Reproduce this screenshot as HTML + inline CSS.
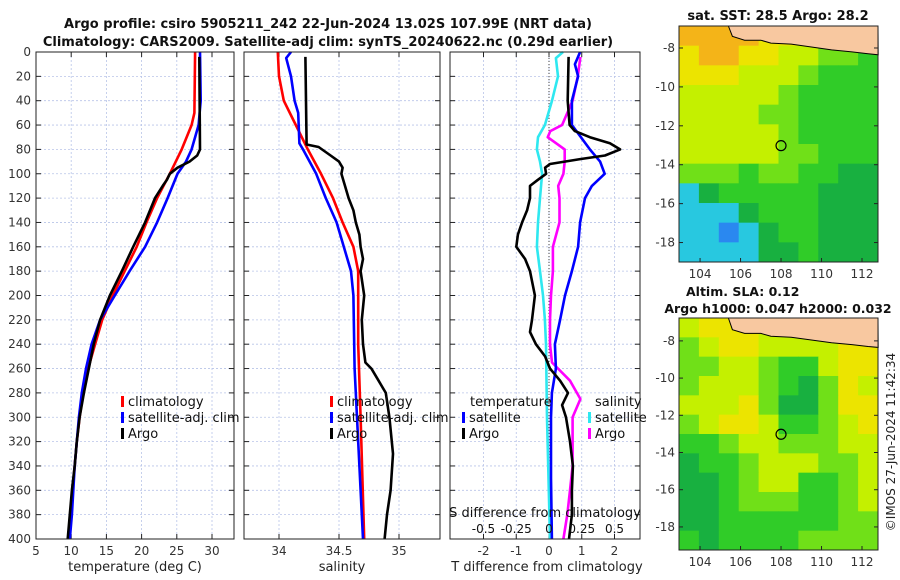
<!DOCTYPE html>
<html><head><meta charset="utf-8"><style>
body{margin:0;background:#fff}
svg{display:block;font-family:"DejaVu Sans","Liberation Sans",sans-serif}
</style></head><body>
<svg id="c" width="900" height="580" xmlns="http://www.w3.org/2000/svg"></svg>
<script>
// ---------- DATA ----------
const tClimDepth=[0,50,60,80,100,120,140,160,180,200,220,240,260,280,300,320,340,360,380,400];
const tClimVal=[27.6,27.5,27.1,25.7,24,22.2,20.7,19.3,17.6,15.9,14.4,13.4,12.4,11.7,11.2,10.8,10.5,10.2,10,9.7];
const tSatDepth=[0,40,60,80,90,100,120,140,160,180,200,220,240,260,280,300,320,340,360,380,400];
const tSatVal=[28.3,28.4,28.1,27.1,26.3,25.1,23.7,22.2,20.5,18.3,16.2,14.1,12.9,12.1,11.5,11.1,10.8,10.5,10.3,10.1,9.8];
const tArgoDepth=[4,80,85,90,95,100,105,110,120,140,160,180,200,220,240,260,280,300,320,340,360,380,400];
const tArgoVal=[28.2,28.3,27.9,26.8,25.1,24,23.6,23,21.9,20.5,18.8,17.2,15.5,14.1,13.2,12.5,11.8,11.2,10.8,10.5,10.1,9.8,9.5];
const sClimDepth=[0,20,40,60,80,100,120,140,160,180,240,300,400];
const sClimVal=[33.99,34.0,34.04,34.14,34.24,34.35,34.45,34.53,34.62,34.66,34.66,34.68,34.71];
const sSatDepth=[0,5,20,40,50,75,80,100,120,140,160,180,200,260,300,400];
const sSatVal=[34.1,34.06,34.1,34.13,34.16,34.17,34.2,34.31,34.39,34.48,34.54,34.6,34.62,34.63,34.65,34.7];
const sArgoDepth=[4,76,78,85,90,95,100,110,120,130,140,150,160,170,180,200,220,240,255,260,270,280,300,330,360,380,400];
const sArgoVal=[34.22,34.23,34.33,34.43,34.5,34.53,34.52,34.55,34.58,34.62,34.64,34.67,34.68,34.7,34.68,34.71,34.69,34.7,34.72,34.77,34.83,34.89,34.92,34.95,34.93,34.9,34.88];
const dTArgoDepth=[4,40,60,65,70,75,80,85,88,92,95,100,105,110,120,130,140,150,160,170,180,200,220,230,240,250,260,270,280,290,300,320,340,360,380,400];
const dTArgoVal=[0.6,0.57,0.63,0.79,1.25,1.86,2.17,1.71,0.95,0.03,-0.12,-0.09,-0.34,-0.58,-0.58,-0.67,-0.82,-0.95,-1.0,-0.73,-0.58,-0.43,-0.52,-0.58,-0.4,-0.12,0.03,0.34,0.58,0.4,0.52,0.64,0.73,0.7,0.7,0.61];
const dTSatDepth=[0,10,20,40,60,80,90,100,110,120,140,160,180,200,220,240,260,280,300,350,400];
const dTSatVal=[0.95,0.79,0.89,0.7,0.7,1.25,1.56,1.7,1.31,1.1,0.95,0.89,0.7,0.49,0.34,0.18,0.21,0.09,0.06,0.06,0.09];
const dSSatDepth=[0,5,20,40,60,70,80,90,100,120,140,160,180,200,220,240,300,400];
const dSSatVal=[0.107,0.053,0.069,0.023,-0.031,-0.084,-0.092,-0.069,-0.053,-0.069,-0.084,-0.092,-0.069,-0.046,-0.031,-0.023,-0.015,0.008];
const dSArgoDepth=[4,20,40,60,65,70,80,90,100,110,120,140,160,180,200,220,240,255,270,285,300,340,360,380,400];
const dSArgoVal=[0.24,0.22,0.18,0.1,0.01,-0.01,0.12,0.12,0.11,0.07,0.08,0.08,0.03,0.03,0.015,0.008,0.008,0.023,0.16,0.24,0.18,0.18,0.16,0.14,0.11];
const sstGrid=[
[7,7,7,7,6,6,5,5,4,3],[6,7,7,6,6,5,5,4,4,3],[6,6,6,5,5,5,4,3,3,3],[5,5,5,5,5,4,3,3,3,3],
[5,5,5,5,4,4,3,3,3,3],[5,5,5,5,5,4,3,3,3,3],[5,5,5,5,5,4,4,3,3,3],[4,4,4,3,4,4,3,3,2,2],
[1,2,3,3,3,3,3,2,2,2],[1,1,1,2,3,3,3,2,2,2],[1,1,0,1,2,3,3,2,2,2],[1,1,1,1,2,2,3,2,2,2]];
const slaGrid=[
[5,6,6,6,5,5,5,5,6,6],[4,5,6,6,5,5,5,5,6,6],[4,4,5,5,4,3,3,5,6,6],[4,5,5,5,4,3,2,4,6,5],
[5,5,5,6,4,2,2,4,6,6],[4,5,6,6,5,3,3,4,5,6],[3,3,4,5,5,4,4,4,5,5],[2,3,3,4,5,5,5,4,4,5],
[2,2,3,4,5,5,3,3,4,5],[2,2,3,4,4,4,3,3,4,5],[2,2,3,3,3,3,3,3,4,4],[3,2,3,3,3,3,4,4,4,4]];
const coastLon=[105.4,105.6,106.2,107,107.5,108.5,109.5,110.5,111.5,112.3,112.8];
const coastLat=[-6.7,-7.4,-7.6,-7.6,-7.75,-7.8,-7.95,-8.1,-8.2,-8.3,-8.35];
const depthTicks=[0,20,40,60,80,100,120,140,160,180,200,220,240,260,280,300,320,340,360,380,400];
const tTicks=[5,10,15,20,25,30];
const sTicks=[34,34.5,35];
const dTTicks=[-2,-1,0,1,2];
const dSTicks=[-0.5,-0.25,0,0.25,0.5];
const dSTickLabels=["-0.5","-0.25","0","0.25","0.5"];
const lonTicks=[104,106,108,110,112];
const latTicks=[-8,-10,-12,-14,-16,-18];
const argoLon=108, argoLat=-13.02;
// ---------- DRAW ----------
const svg=document.getElementById('c');const NS='http://www.w3.org/2000/svg';
function el(t,a,p){const e=document.createElementNS(NS,t);for(const k in a)e.setAttribute(k,a[k]);(p||svg).appendChild(e);return e;}
function txt(s,a,p){const e=el('text',a,p);e.textContent=s;return e;}
const Y0=52,Y1=539;const yD=d=>Y0+d/400*(Y1-Y0);
const xT=v=>36+(v-5)*7.04;
const xS=v=>279+(v-34)*120;
const xdT=v=>549+v*32.75;
const xdS=v=>549+v*131;
const panels=[[36,234,'temperature-panel'],[244,440,'salinity-panel'],[450,640,'difference-panel']];
function grid(px0,px1,xs,fx,g){
  xs.forEach(v=>{const l=el('line',{x1:fx(v),x2:fx(v),y1:Y0,y2:Y1,stroke:'#b8c4e8','stroke-dasharray':'2,2','stroke-width':0.8},g);});
  depthTicks.forEach(d=>{const l=el('line',{x1:px0,x2:px1,y1:yD(d),y2:yD(d),stroke:'#b8c4e8','stroke-dasharray':'2,2','stroke-width':0.8},g);
    el('line',{x1:px0,x2:px0+5,y1:yD(d),y2:yD(d),stroke:'#222'},g);el('line',{x1:px1,x2:px1-5,y1:yD(d),y2:yD(d),stroke:'#222'},g);});
}
function line(ds,vs,fx,color,name,g){
  const pts=ds.map((d,i)=>fx(vs[i]).toFixed(1)+','+yD(d).toFixed(1)).join(' ');
  const p=el('polyline',{points:pts,fill:'none',stroke:color,'stroke-width':2.6,'stroke-linejoin':'round'},g);
  
}
const xsets=[[tTicks,xT],[sTicks,xS],[dTTicks,xdT]];
panels.forEach((pn,i)=>{
  const g=el('g',{});
  grid(pn[0],pn[1],xsets[i][0].filter(v=>xsets[i][1](v)>pn[0]+1),xsets[i][1],g);
  xsets[i][0].forEach(v=>{const x=xsets[i][1](v);el('line',{x1:x,x2:x,y1:Y1,y2:Y1-5,stroke:'#222'},g);el('line',{x1:x,x2:x,y1:Y0,y2:Y0+5,stroke:'#222'},g);
    const t=txt(String(v),{x:x,y:Y1+16,'font-size':12,'text-anchor':'middle',fill:'#333'},g);});
  if(i==0){depthTicks.forEach(d=>{const t=txt(String(d),{x:31,y:yD(d)+4,'font-size':12,'text-anchor':'end',fill:'#333'},g);});}
  if(i==2){const l=el('line',{x1:xdT(0),x2:xdT(0),y1:Y0,y2:Y1,stroke:'#444','stroke-dasharray':'1,2'},g);}
  if(i==0){line(tClimDepth,tClimVal,xT,'#f00','temp-climatology-line',g);line(tSatDepth,tSatVal,xT,'#00f','temp-satellite-line',g);line(tArgoDepth,tArgoVal,xT,'#000','temp-argo-line',g);}
  if(i==1){line(sClimDepth,sClimVal,xS,'#f00','sal-climatology-line',g);line(sSatDepth,sSatVal,xS,'#00f','sal-satellite-line',g);line(sArgoDepth,sArgoVal,xS,'#000','sal-argo-line',g);}
  if(i==2){line(dSSatDepth,dSSatVal,xdS,'#2ee8f0','sdiff-satellite-line',g);line(dSArgoDepth,dSArgoVal,xdS,'#f0f','sdiff-argo-line',g);line(dTSatDepth,dTSatVal,xdT,'#00f','tdiff-satellite-line',g);line(dTArgoDepth,dTArgoVal,xdT,'#000','tdiff-argo-line',g);}
  const r=el('rect',{x:pn[0],y:Y0,width:pn[1]-pn[0],height:Y1-Y0,fill:'none',stroke:'#222','stroke-width':1},g);
});
// legends
function leg(x,y,c,s,name){const g=el('g',{});
  if(c)el('rect',{x:x,y:y-10,width:3,height:11,fill:c},g);txt(s,{x:x+7,y:y,'font-size':13,fill:'#111'},g);}
leg(121,406,'#f00','climatology','legend-climatology');leg(121,422,'#00f','satellite-adj. clim','legend-satellite');leg(121,438,'#000','Argo','legend-argo');
leg(330,406,'#f00','climatology','legend-climatology-sal');leg(330,422,'#00f','satellite-adj. clim','legend-satellite-sal');leg(330,438,'#000','Argo','legend-argo-sal');
leg(463,406,null,'temperature','legend-temperature-header');leg(462,422,'#00f','satellite','legend-tdiff-satellite');leg(462,438,'#000','Argo','legend-tdiff-argo');
leg(588,406,null,'salinity','legend-salinity-header');leg(588,422,'#2ee8f0','satellite','legend-sdiff-satellite');leg(588,438,'#f0f','Argo','legend-sdiff-argo');
let t=txt('S difference from climatology',{x:545,y:517,'font-size':13,'text-anchor':'middle',fill:'#111'});
dSTicks.forEach((v,i)=>{const q=txt(dSTickLabels[i],{x:xdS(v),y:533,'font-size':12,'text-anchor':'middle',fill:'#111'});});
[[135,'temperature (deg C)','t-axis-title'],[342,'salinity','s-axis-title-2'],[547,'T difference from climatology','tdiff-axis-title']].forEach(a=>{const q=txt(a[1],{x:a[0],y:571,'font-size':13,'text-anchor':'middle',fill:'#222'});});
t=txt('Argo profile: csiro 5905211_242 22-Jun-2024 13.02S 107.99E (NRT data)',{x:328,y:28,'font-size':13,'font-weight':'bold','text-anchor':'middle',fill:'#111'});
t=txt('Climatology: CARS2009. Satellite-adj clim: synTS_20240622.nc (0.29d earlier)',{x:328,y:46,'font-size':13,'font-weight':'bold','text-anchor':'middle',fill:'#111'});
// maps
const cols=['#2a88f0','#28c8e0','#18b040','#30cc28','#70e018','#c4f000','#ece400','#f4b418'];
function map(y0,y1,latTop,latBot,gridV,name,title1,title2){
  const x0=679,x1=878,lonL=102.96,lonR=112.79;
  const g=el('g',{});
  const fx=l=>x0+(l-lonL)/(lonR-lonL)*(x1-x0);const fy=l=>y0+(latTop-l)/(latTop-latBot)*(y1-y0);
  const nr=gridV.length,nc=gridV[0].length,cw=(x1-x0)/nc,ch=(y1-y0)/nr;
  gridV.forEach((row,r)=>row.forEach((v,c)=>{const q=el('rect',{x:x0+c*cw,y:y0+r*ch,width:cw+0.5,height:ch+0.5,fill:cols[v]},g);}));
  const pts=coastLon.map((l,i)=>fx(l).toFixed(1)+','+Math.max(y0,fy(coastLat[i])).toFixed(1));
  const land=el('polygon',{points:pts.join(' ')+' '+x1+','+y0,fill:'#f8c8a0',stroke:'#000','stroke-width':1},g);
  const c=el('circle',{cx:fx(argoLon),cy:fy(argoLat),r:5,fill:'none',stroke:'#000','stroke-width':1.2},g);
  el('rect',{x:x0,y:y0,width:x1-x0,height:y1-y0,fill:'none',stroke:'#222'},g);
  lonTicks.forEach(l=>{el('line',{x1:fx(l),x2:fx(l),y1:y1,y2:y1-4,stroke:'#222'},g);const q=txt(String(l),{x:fx(l),y:y1+16,'font-size':12,'text-anchor':'middle',fill:'#333'},g);});
  latTicks.forEach(l=>{el('line',{x1:x1,x2:x1-4,y1:fy(l),y2:fy(l),stroke:'#222'},g);el('line',{x1:x0,x2:x0+4,y1:fy(l),y2:fy(l),stroke:'#222'},g);const q=txt(String(l),{x:x0-4,y:fy(l)+4,'font-size':12,'text-anchor':'end',fill:'#333'},g);});
  if(title2){let q=txt(title1,{x:686,y:y0-22,'font-size':12.5,'font-weight':'bold',fill:'#111','text-anchor':'start'},g);
    q=txt(title2,{x:778,y:y0-5,'font-size':12.5,'font-weight':'bold',fill:'#111','text-anchor':'middle'},g);}
  else{const q=txt(title1,{x:778,y:y0-6,'font-size':13,'font-weight':'bold',fill:'#111','text-anchor':'middle'},g);}
}
map(26,262,-6.87,-19.0,sstGrid,'sst-map','sat. SST: 28.5 Argo: 28.2');
map(318,550,-6.77,-19.24,slaGrid,'sla-map','Altim. SLA: 0.12','Argo h1000: 0.047 h2000: 0.032');
t=txt('©IMOS 27-Jun-2024 11:42:34',{x:0,y:0,'font-size':12,fill:'#222','text-anchor':'middle',transform:'translate(895,442) rotate(-90)'});
</script>
</body></html>
